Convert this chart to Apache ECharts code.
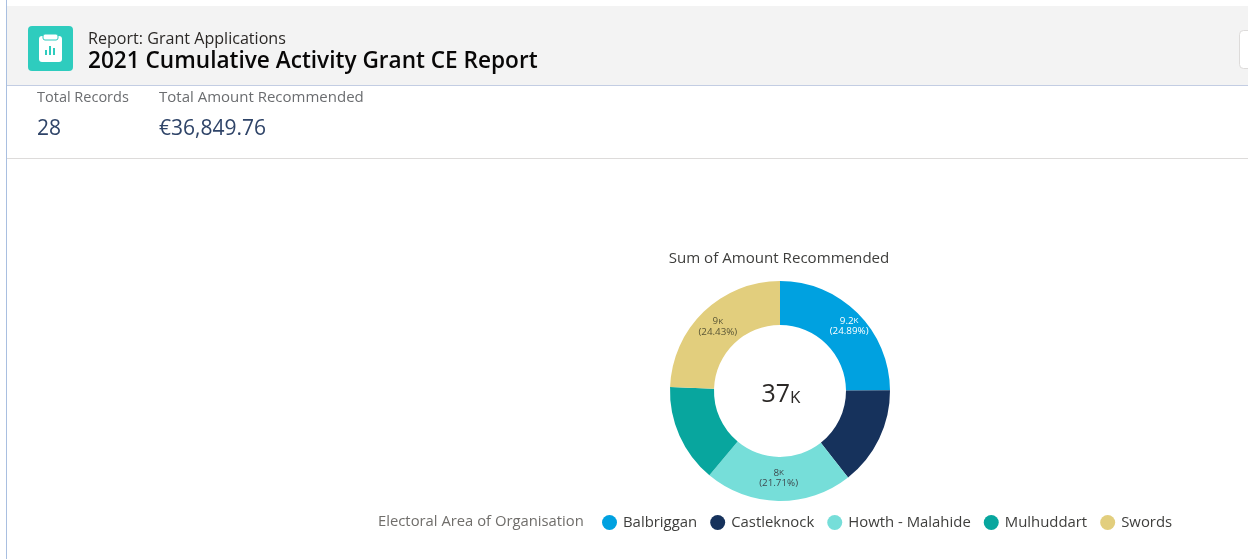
<!DOCTYPE html>
<html><head><meta charset="utf-8">
<style>html,body{margin:0;padding:0;background:#fff}#c{width:1248px;height:559px}</style>
<script src="https://cdn.jsdelivr.net/npm/echarts@6/dist/echarts.min.js"></script>
</head><body><div id="c"></div>
<script>
const categories = ['Balbriggan','Castleknock','Howth - Malahide','Mulhuddart','Swords'];
const amounts = [9172, 5340.76, 8000, 5335, 9002];
const colours = ['#00A1E0','#16325C','#76DED9','#08A69E','#E2CE7D'];
const labelColours = ['#ffffff','#ffffff','#3e4a4f','#ffffff','#5a5636'];
const labelled = [true,false,true,false,true];
const labelNudges = [[5,0],[0,0],[0,-4],[0,0],[1,1]];
const reportType = 'Report: Grant Applications';
const reportTitle = '2021 Cumulative Activity Grant CE Report';
const kpiLabels = ['Total Records','Total Amount Recommended'];
const kpiValues = ['28','€36,849.76'];
const chartTitle = 'Sum of Amount Recommended';
const legendTitle = 'Electoral Area of Organisation';

const F = '"Open Sans", sans-serif';
const total = amounts.reduce((a,b)=>a+b,0);
const chart = echarts.init(document.getElementById('c'));
const txt = (x,y,text,size,fill,weight)=>({type:'text',x,y,silent:true,z:5,style:{text,font:(weight||400)+' '+size+'px '+F,fill,textVerticalAlign:'middle',textBaseline:'middle'}});
const box = (x,y,w,h,fill,r,z)=>({type:'rect',silent:true,z:z||1,shape:{x,y,width:w,height:h,r:r||0},style:{fill}});
chart.setOption({
  animation:false,
  backgroundColor:'#ffffff',
  title:[
    {text:chartTitle,left:774,top:246,textAlign:'center',textStyle:{fontFamily:F,fontSize:15.1,fontWeight:400,color:'#3e3e3c'}},
    {text:'{n|'+Math.round(total/1000)+'}{k|K}',left:776,top:372,textAlign:'center',textStyle:{fontWeight:400,rich:{
      n:{fontFamily:F,fontSize:25,fontWeight:400,color:'#2b2826',verticalAlign:'bottom',lineHeight:30},
      k:{fontFamily:F,fontSize:17,fontWeight:400,color:'#2b2826',verticalAlign:'bottom',lineHeight:26}}}}
  ],
  legend:{
    left:597,top:510,padding:5,itemWidth:15,itemHeight:15,itemGap:13,icon:'circle',
    data:categories,selectedMode:false,
    textStyle:{fontFamily:F,fontSize:14.9,color:'#3e3e3c',padding:[0,0,0,1]}
  },
  series:[{
    type:'pie',center:[780,391],radius:[66,110],startAngle:90,percentPrecision:2,
    silent:true,
    label:{position:'inside',lineHeight:10,fontFamily:F,fontSize:9,
      formatter:p=>'{a|'+(Math.round(p.value/100)/10)+'}{b|K}\n{a|('+p.percent.toFixed(2)+'%)}'},
    labelLine:{show:false},
    data:categories.map((name,i)=>({name,value:amounts[i],
      itemStyle:{color:colours[i]},
      label:{show:labelled[i],color:labelColours[i],offset:labelNudges[i],
        rich:{a:{fontFamily:F,fontSize:9.8,lineHeight:10.5,color:labelColours[i]},b:{fontFamily:F,fontSize:8,lineHeight:10.5,color:labelColours[i]}}}}))
  }],
  graphic:[
    box(7,6,1241,79,'#f3f3f3'),
    box(6,0,1,559,'#a9bfe0',0,2),
    box(7,85,1241,1,'#c3cde3',0,2),
    box(7,158,1241,1,'#dddbda',0,2),
    {type:'rect',silent:true,z:3,shape:{x:1239.5,y:30.5,width:30,height:38,r:4},style:{fill:'#fff',stroke:'#dddbda',lineWidth:1}},
    box(28,26,45,45,'#2ECCBE',4,3),
    box(39,36,23,26,'#ffffff',3,4),
    {type:'rect',silent:true,z:5,shape:{x:43,y:34,width:15,height:6,r:2},style:{fill:'#ffffff',stroke:'#2ECCBE',lineWidth:1}},
    box(45,50,2,5,'#2ECCBE',0,5),
    box(49,46,2,9,'#2ECCBE',0,5),
    box(53,48,2,7,'#2ECCBE',0,5),
    txt(88,39,reportType,16.1,'#2b2826'),
    txt(88,62,reportTitle,22.6,'#080707',600),
    txt(37,98,kpiLabels[0],14.5,'#6b6d70'),
    txt(159,98,kpiLabels[1],15,'#6b6d70'),
    txt(37,129,kpiValues[0],21,'#2f4468'),
    txt(159,129,kpiValues[1],21,'#2f4468'),
    txt(378,522,legendTitle,14.8,'#706e6b')
  ]
});
</script></body></html>
